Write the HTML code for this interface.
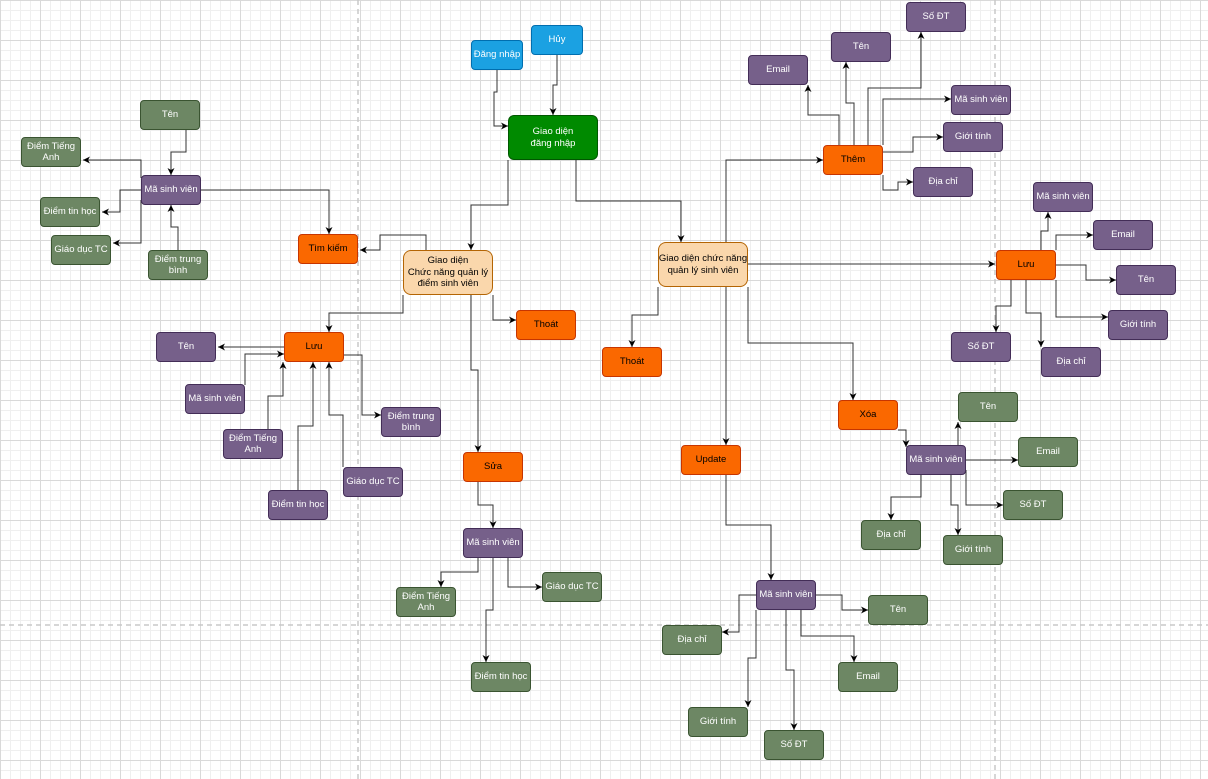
<!DOCTYPE html>
<html><head><meta charset="utf-8"><style>
body{margin:0;width:1208px;height:779px;overflow:hidden;background:#fff;
background-image:linear-gradient(#d9d9d9 1px,transparent 1px),linear-gradient(90deg,#d9d9d9 1px,transparent 1px),linear-gradient(#efefef 1px,transparent 1px),linear-gradient(90deg,#efefef 1px,transparent 1px);
background-size:40px 40px,40px 40px,10px 10px,10px 10px;font-family:"Liberation Sans",sans-serif;position:relative}
.n{position:absolute;box-sizing:border-box;border-radius:4px;display:flex;align-items:center;justify-content:center;text-align:center;font-size:9.5px;line-height:11.5px;color:#fff;border:1px solid;white-space:nowrap}
.g{background:#6d8764;border-color:#3a5431}
.p{background:#76608a;border-color:#432d57}
.o{background:#fa6800;border-color:#c73500;color:#000}
.b{background:#1ba1e2;border-color:#006eaf}
.dg{background:#008a00;border-color:#005700}
.pe{background:#fad7ac;border-color:#b46504;color:#000;border-radius:8px}
svg{position:absolute;left:0;top:0}
</style></head><body>
<svg width="1208" height="779">
<defs><marker id="a" markerWidth="8" markerHeight="8" refX="7" refY="4" orient="auto" markerUnits="userSpaceOnUse"><path d="M0,0.5 L7,4 L0,7.5 L2,4z" fill="#000"/></marker></defs>
<g stroke="#c8c8c8" stroke-dasharray="5,4" stroke-width="1.5">
<line x1="358" y1="0" x2="358" y2="779"/><line x1="995" y1="0" x2="995" y2="779"/><line x1="0" y1="625" x2="1208" y2="625"/></g>
<g fill="none" stroke="#333" stroke-width="1" marker-end="url(#a)">
<polyline points="186,130 186,152 171,152 171,175"/>
<polyline points="141,178 141,160 83,160"/>
<polyline points="141,190 120,190 120,212 102,212"/>
<polyline points="141,200 141,243 113,243"/>
<polyline points="178,250 178,227 171,227 171,205"/>
<polyline points="201,190 329,190 329,234"/>
<polyline points="426,250 426,235 380,235 380,250 360,250"/>
<polyline points="497,70 497,92 494,92 494,126 508,126"/>
<polyline points="557,55 557,85 553,85 553,115"/>
<polyline points="508,160 508,205 471,205 471,250"/>
<polyline points="576,160 576,201 681,201 681,242"/>
<polyline points="493,295 493,320 516,320"/>
<polyline points="403,295 403,313 329,313 329,332"/>
<polyline points="471,295 471,370 478,370 478,452"/>
<polyline points="284,347 218,347"/>
<polyline points="245,385 245,354 284,354"/>
<polyline points="268,429 268,396 283,396 283,362"/>
<polyline points="298,490 298,426 313,426 313,362"/>
<polyline points="343,467 343,415 329,415 329,362"/>
<polyline points="344,355 362,355 362,415 381,415"/>
<polyline points="478,482 478,505 493,505 493,528"/>
<polyline points="478,558 478,572 441,572 441,587"/>
<polyline points="493,558 493,610 486,610 486,662"/>
<polyline points="508,558 508,587 542,587"/>
<polyline points="748,264 995,264"/>
<polyline points="726,242 726,160 823,160"/>
<polyline points="658,287 658,315 632,315 632,347"/>
<polyline points="726,287 726,445"/>
<polyline points="748,287 748,343 853,343 853,400"/>
<polyline points="726,475 726,525 771,525 771,580"/>
<polyline points="839,145 839,115 808,115 808,85"/>
<polyline points="854,145 854,103 846,103 846,62"/>
<polyline points="868,145 868,88 921,88 921,32"/>
<polyline points="883,145 883,99 951,99"/>
<polyline points="883,152 913,152 913,137 943,137"/>
<polyline points="883,175 883,190 898,190 898,182 913,182"/>
<polyline points="1041,250 1041,231 1048,231 1048,212"/>
<polyline points="1056,250 1056,235 1093,235"/>
<polyline points="1056,265 1086,265 1086,280 1116,280"/>
<polyline points="1056,280 1056,317 1108,317"/>
<polyline points="1011,280 1011,306 996,306 996,332"/>
<polyline points="1026,280 1026,313 1041,313 1041,347"/>
<polyline points="898,430 906,430 906,447"/>
<polyline points="958,445 958,422"/>
<polyline points="966,460 1018,460"/>
<polyline points="966,470 966,505 1003,505"/>
<polyline points="921,475 921,497 891,497 891,520"/>
<polyline points="951,475 951,505 958,505 958,535"/>
<polyline points="756,595 739,595 739,632 722,632"/>
<polyline points="816,595 842,595 842,610 868,610"/>
<polyline points="801,610 801,636 854,636 854,662"/>
<polyline points="786,610 786,670 794,670 794,730"/>
<polyline points="756,610 756,658 748,658 748,707"/>
</g></svg>
<div class="n g" style="left:140px;top:100px;width:60px;height:30px">Tên</div>
<div class="n g" style="left:21px;top:137px;width:60px;height:30px">Điểm Tiếng<br>Anh</div>
<div class="n p" style="left:141px;top:175px;width:60px;height:30px">Mã sinh viên</div>
<div class="n g" style="left:40px;top:197px;width:60px;height:30px">Điểm tin học</div>
<div class="n g" style="left:51px;top:235px;width:60px;height:30px">Giáo dục TC</div>
<div class="n g" style="left:148px;top:250px;width:60px;height:30px">Điểm trung<br>bình</div>
<div class="n o" style="left:298px;top:234px;width:60px;height:30px">Tìm kiếm</div>
<div class="n b" style="left:471px;top:40px;width:52px;height:30px">Đăng nhập</div>
<div class="n b" style="left:531px;top:25px;width:52px;height:30px">Hủy</div>
<div class="n dg" style="left:508px;top:115px;width:90px;height:45px;border-radius:6px">Giao diện<br>đăng nhập</div>
<div class="n pe" style="left:403px;top:250px;width:90px;height:45px">Giao diện<br>Chức năng quản lý<br>điểm sinh viên</div>
<div class="n o" style="left:516px;top:310px;width:60px;height:30px">Thoát</div>
<div class="n o" style="left:284px;top:332px;width:60px;height:30px">Lưu</div>
<div class="n p" style="left:156px;top:332px;width:60px;height:30px">Tên</div>
<div class="n p" style="left:185px;top:384px;width:60px;height:30px">Mã sinh viên</div>
<div class="n p" style="left:381px;top:407px;width:60px;height:30px">Điểm trung<br>bình</div>
<div class="n p" style="left:223px;top:429px;width:60px;height:30px">Điểm Tiếng<br>Anh</div>
<div class="n p" style="left:343px;top:467px;width:60px;height:30px">Giáo dục TC</div>
<div class="n p" style="left:268px;top:490px;width:60px;height:30px">Điểm tin học</div>
<div class="n o" style="left:463px;top:452px;width:60px;height:30px">Sửa</div>
<div class="n p" style="left:463px;top:528px;width:60px;height:30px">Mã sinh viên</div>
<div class="n g" style="left:542px;top:572px;width:60px;height:30px">Giáo dục TC</div>
<div class="n g" style="left:396px;top:587px;width:60px;height:30px">Điểm Tiếng<br>Anh</div>
<div class="n g" style="left:471px;top:662px;width:60px;height:30px">Điểm tin học</div>
<div class="n pe" style="left:658px;top:242px;width:90px;height:45px">Giao diện chức năng<br>quản lý sinh viên</div>
<div class="n o" style="left:602px;top:347px;width:60px;height:30px">Thoát</div>
<div class="n o" style="left:681px;top:445px;width:60px;height:30px">Update</div>
<div class="n o" style="left:838px;top:400px;width:60px;height:30px">Xóa</div>
<div class="n o" style="left:823px;top:145px;width:60px;height:30px">Thêm</div>
<div class="n p" style="left:748px;top:55px;width:60px;height:30px">Email</div>
<div class="n p" style="left:831px;top:32px;width:60px;height:30px">Tên</div>
<div class="n p" style="left:906px;top:2px;width:60px;height:30px">Số ĐT</div>
<div class="n p" style="left:951px;top:85px;width:60px;height:30px">Mã sinh viên</div>
<div class="n p" style="left:943px;top:122px;width:60px;height:30px">Giới tính</div>
<div class="n p" style="left:913px;top:167px;width:60px;height:30px">Địa chỉ</div>
<div class="n o" style="left:996px;top:250px;width:60px;height:30px">Lưu</div>
<div class="n p" style="left:1033px;top:182px;width:60px;height:30px">Mã sinh viên</div>
<div class="n p" style="left:1093px;top:220px;width:60px;height:30px">Email</div>
<div class="n p" style="left:1116px;top:265px;width:60px;height:30px">Tên</div>
<div class="n p" style="left:1108px;top:310px;width:60px;height:30px">Giới tính</div>
<div class="n p" style="left:951px;top:332px;width:60px;height:30px">Số ĐT</div>
<div class="n p" style="left:1041px;top:347px;width:60px;height:30px">Địa chỉ</div>
<div class="n p" style="left:906px;top:445px;width:60px;height:30px">Mã sinh viên</div>
<div class="n g" style="left:958px;top:392px;width:60px;height:30px">Tên</div>
<div class="n g" style="left:1018px;top:437px;width:60px;height:30px">Email</div>
<div class="n g" style="left:1003px;top:490px;width:60px;height:30px">Số ĐT</div>
<div class="n g" style="left:861px;top:520px;width:60px;height:30px">Địa chỉ</div>
<div class="n g" style="left:943px;top:535px;width:60px;height:30px">Giới tính</div>
<div class="n p" style="left:756px;top:580px;width:60px;height:30px">Mã sinh viên</div>
<div class="n g" style="left:868px;top:595px;width:60px;height:30px">Tên</div>
<div class="n g" style="left:662px;top:625px;width:60px;height:30px">Địa chỉ</div>
<div class="n g" style="left:838px;top:662px;width:60px;height:30px">Email</div>
<div class="n g" style="left:688px;top:707px;width:60px;height:30px">Giới tính</div>
<div class="n g" style="left:764px;top:730px;width:60px;height:30px">Số ĐT</div>
</body></html>
